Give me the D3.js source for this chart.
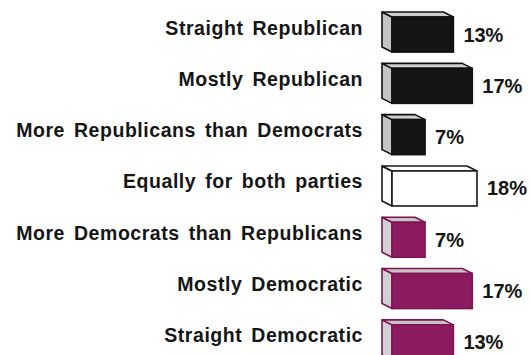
<!DOCTYPE html>
<html>
<head>
<meta charset="utf-8">
<script src="https://cdn.jsdelivr.net/npm/d3@7/dist/d3.min.js"></script>
<style>
  html, body { margin: 0; padding: 0; background: #ffffff; }
  svg { display: block; }
</style>
</head>
<body>
<svg id="chart" width="531" height="355"></svg>
<script>
// ---- data ----
const categories = [
  "Straight Republican",
  "Mostly Republican",
  "More Republicans than Democrats",
  "Equally for both parties",
  "More Democrats than Republicans",
  "Mostly Democratic",
  "Straight Democratic"
];
const values = [13, 17, 7, 18, 7, 17, 13];
const groups = ["rep", "rep", "rep", "eq", "dem", "dem", "dem"];
const valueLabels = ["13%", "17%", "7%", "18%", "7%", "17%", "13%"];

// ---- styles ----
const palette = {
  rep: { front: "#141414", side: "#c4c4c4", top: "#cfcfcf", stroke: "#111111" },
  eq:  { front: "#ffffff", side: "#ffffff", top: "#ffffff", stroke: "#1a1a1a" },
  dem: { front: "#8c1a5e", side: "#d2d0d2", top: "#c9c2c7", stroke: "#7d1553" }
};
const depthX = 10, depthY = 5;
const fontFamily = "'Liberation Sans', Arial, Helvetica, sans-serif";

const svg = d3.select("#chart");

const x = d3.scaleLinear().domain([0, 18]).range([392, 477]);
const y = d3.scaleBand()
  .domain(categories)
  .range([6.4, 365.5])
  .paddingInner(0.22)
  .paddingOuter(0.11);

const rows = categories.map((c, i) => ({ c, v: values[i], g: groups[i], lab: valueLabels[i] }));

const bar = svg.selectAll("g.bar").data(rows).enter().append("g").attr("class", "bar");

bar.each(function(d) {
  const g = d3.select(this);
  const p = palette[d.g];
  const x0 = x(0), x1 = x(d.v);
  const yT = y(d.c), yF = yT + depthY, yB = yT + y.bandwidth();
  const line = d3.line();
  // side face
  g.append("path")
    .attr("d", line([[x0 - depthX, yT], [x0, yF], [x0, yB], [x0 - depthX, yB - depthY]]) + "Z")
    .attr("fill", p.side).attr("stroke", p.stroke).attr("stroke-width", 1.6)
    .attr("stroke-linejoin", "round");
  // top face
  g.append("path")
    .attr("d", line([[x0 - depthX, yT], [x1 - depthX, yT], [x1, yF], [x0, yF]]) + "Z")
    .attr("fill", p.top).attr("stroke", p.stroke).attr("stroke-width", 1.6)
    .attr("stroke-linejoin", "round");
  // front face
  g.append("rect")
    .attr("x", x0).attr("y", yF)
    .attr("width", x1 - x0).attr("height", yB - yF)
    .attr("fill", p.front).attr("stroke", p.stroke).attr("stroke-width", 1.6);
});

// category labels
svg.selectAll("text.cat").data(rows).enter().append("text")
  .attr("class", "cat")
  .attr("x", 363)
  .attr("y", d => y(d.c) + 22.5)
  .attr("text-anchor", "end")
  .attr("font-family", fontFamily)
  .attr("font-weight", "bold")
  .attr("font-size", 19.5)
  .attr("letter-spacing", 0.55)
  .attr("word-spacing", 3)
  .attr("fill", "#151515")
  .text(d => d.c);

// value labels
svg.selectAll("text.val").data(rows).enter().append("text")
  .attr("class", "val")
  .attr("x", d => x(d.v) + 10)
  .attr("y", d => y(d.c) + 29.5)
  .attr("font-family", fontFamily)
  .attr("font-weight", "bold")
  .attr("font-size", 20)
  .attr("fill", "#151515")
  .text(d => d.lab);
</script>
</body>
</html>
